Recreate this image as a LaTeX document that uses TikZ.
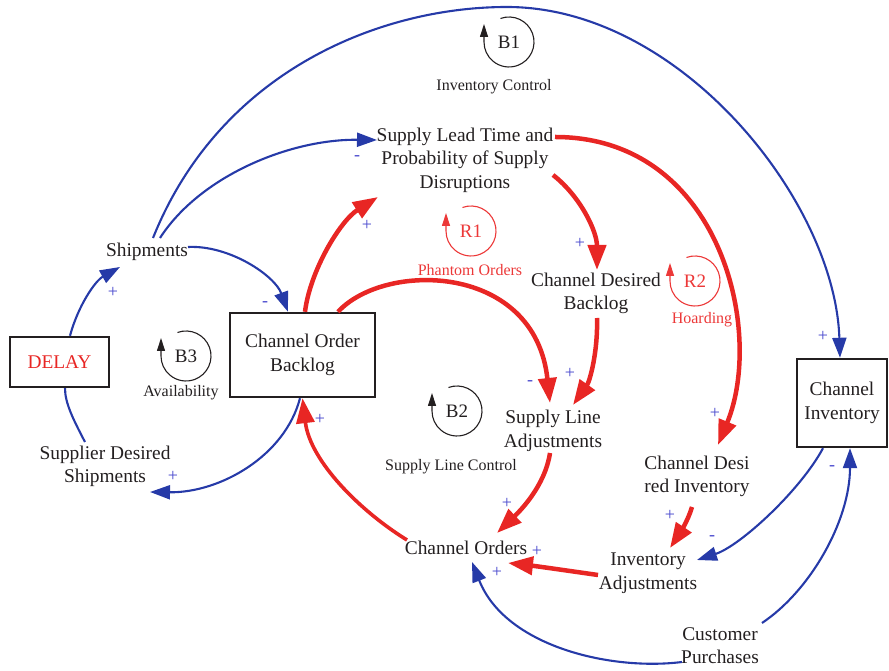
\documentclass[tikz,border=0pt]{standalone}
\usepackage{fontspec}
\setmainfont{Liberation Serif}
\usetikzlibrary{arrows.meta}

\definecolor{linkblue}{RGB}{38,58,168}
\definecolor{linkred}{RGB}{232,38,36}
\definecolor{signblue}{RGB}{72,72,205}
\definecolor{loopred}{RGB}{236,56,56}
\definecolor{ink}{RGB}{35,31,32}

\tikzset{
  var/.style={inner sep=0pt, align=center, text=ink,
    font=\fontsize{19.4}{23.5}\selectfont},
  stock/.style={var, draw=ink, line width=2.4pt},
  blink/.style={draw=linkblue, line width=2.1pt,
    -{Triangle[length=20pt,width=14pt]}},
  rlink/.style={draw=linkred, line width=4.5pt,
    -{Triangle[length=25pt,width=18pt]}},
  sgn/.style={text=signblue, inner sep=0pt,
    font=\fontsize{18}{18}\selectfont},
  looptag/.style={inner sep=0pt, font=\fontsize{16}{19}\selectfont},
  loopicon/.pic={
    \draw[line width=1.1pt, -{Triangle[length=13pt,width=8pt]}]
      (110:25) arc[start angle=110, end angle=-180, radius=25] -- ++(0,18);
    \node[inner sep=0pt, font=\fontsize{19}{19}\selectfont] (-lbl) at (0,0) {#1};
  }
}

\begin{document}
\begin{tikzpicture}[x=1pt,y=1pt]
\useasboundingbox (0,0) rectangle (889,671);

% variables
\node[var] (slt) at (465,511) {Supply Lead Time and\\Probability of Supply\\Disruptions};
\node[var] (ship) at (147,419) {Shipments};
\node[stock, minimum width=99pt, minimum height=50pt, text=linkred] (delay) at (59.5,309) {DELAY};
\node[stock, minimum width=145pt, minimum height=84pt] (cob) at (302.5,316) {Channel Order\\Backlog};
\node[var] (sds) at (105,204.5) {Supplier Desired\\Shipments};
\node[var] (cdb) at (596,377.5) {Channel Desired\\Backlog};
\node[var] (sla) at (553,240) {Supply Line\\Adjustments};
\node[var] (cdi) at (697,194.5) {Channel Desi\\red Inventory};
\node[stock, minimum width=90pt, minimum height=88pt] (ci) at (842,268) {Channel\\Inventory};
\node[var] (co) at (466,123) {Channel Orders};
\node[var] (ia) at (648,98) {Inventory\\Adjustments};
\node[var] (cp) at (720,25.5) {Customer\\Purchases};

% loop markers
\pic[color=ink] (b1) at (509,629) {loopicon=B1};
\node[looptag, text=ink] (b1tag) at (494,584) {Inventory Control};
\pic[color=loopred] (r1) at (471,440) {loopicon=R1};
\node[looptag, text=loopred] (r1tag) at (470,401) {Phantom Orders};
\pic[color=loopred] (r2) at (695,390) {loopicon=R2};
\node[looptag, text=loopred] (r2tag) at (702,351) {Hoarding};
\pic[color=ink] (b3) at (186,315) {loopicon=B3};
\node[looptag, text=ink] (b3tag) at (181,278) {Availability};
\pic[color=ink] (b2) at (457,260) {loopicon=B2};
\node[looptag, text=ink] (b2tag) at (451,204) {Supply Line Control};

% blue links
\draw[blink] ([shift={(13,14)}]ship.center) .. controls (200,495) and (290,532) .. ([shift={(-88,20)}]slt.center);
\draw[blink] ([shift={(6,14)}]ship.center) .. controls (220,600) and (380,664) .. (507,664)
  .. controls (680,664) and (835,470) .. ([shift={(-2,0)}]ci.north);
\draw[blink] ([shift={(41,5)}]ship.center) .. controls (230,426) and (275,395) .. ([shift={(-14.5,0)}]cob.north);
\draw[blink] ([shift={(10.5,0)}]delay.north) .. controls (78,365) and (95,390) .. ([shift={(-27,-15)}]ship.center);
\draw[draw=linkblue, line width=2.1pt] ([shift={(-20,24.5)}]sds.center) .. controls (73,252) and (65,268) .. ([shift={(5.5,0)}]delay.south);
\draw[blink] ([shift={(-2.5,0)}]cob.south) .. controls (285,215) and (220,178) .. ([shift={(45,-25.5)}]sds.center);
\draw[blink] ([shift={(-19,0)}]ci.south) .. controls (800,180) and (740,125) .. ([shift={(49,13)}]ia.center);
\draw[blink] ([shift={(42,22.5)}]cp.center) .. controls (810,80) and (850,150) .. ([shift={(8,0)}]ci.south);
\draw[blink] ([shift={(-38,-16.5)}]cp.center) .. controls (610,0) and (505,25) .. ([shift={(6,-14)}]co.center);

% red links
\draw[rlink] ([shift={(2.5,0)}]cob.north) .. controls (310,400) and (340,450) .. ([shift={(-87,-37)}]slt.center);
\draw[rlink] ([shift={(35.5,0)}]cob.north) .. controls (385,410) and (535,408) .. ([shift={(-3,28)}]sla.center);
\draw[rlink] ([shift={(88,-15)}]slt.center) .. controls (580,475) and (597,440) .. ([shift={(1,23.5)}]cdb.center);
\draw[rlink] ([shift={(90,23)}]slt.center) .. controls (720,534) and (765,340) .. ([shift={(21,31.5)}]cdi.center);
\draw[rlink] ([shift={(1,-24.5)}]cdb.center) .. controls (598,320) and (590,290) .. ([shift={(20,26)}]sla.center);
\draw[rlink] ([shift={(-3,-22)}]sla.center) .. controls (545,185) and (520,160) .. ([shift={(31,15)}]co.center);
\draw[rlink, line width=3.6pt] ([shift={(-59,8)}]co.center) .. controls (360,160) and (310,210) .. (cob.south);
\draw[rlink] ([shift={(-5,-30.5)}]cdi.center) .. controls (688,150) and (678,135) .. ([shift={(22,25)}]ia.center);
\draw[rlink] ([shift={(-50,-2)}]ia.center) .. controls (570,100) and (535,105) .. ([shift={(42,-15)}]co.center);

% polarities
\node[sgn] (p1) at (357,513) {-};
\node[sgn] (p2) at (823,335) {+};
\node[sgn] (p3) at (265,367) {-};
\node[sgn] (p4) at (113,379) {+};
\node[sgn] (p6) at (173,195) {+};
\node[sgn] (p7) at (367,446) {+};
\node[sgn] (p8) at (530,288) {-};
\node[sgn] (p9) at (580,428) {+};
\node[sgn] (p10) at (715,258) {+};
\node[sgn] (p11) at (570,298) {+};
\node[sgn] (p12) at (507,168) {+};
\node[sgn] (p13) at (320,252) {+};
\node[sgn] (p14) at (670,156) {+};
\node[sgn] (p15) at (537,120) {+};
\node[sgn] (p16) at (712,133) {-};
\node[sgn] (p17) at (832,203) {-};
\node[sgn] (p18) at (497,99) {+};
\end{tikzpicture}
\end{document}
